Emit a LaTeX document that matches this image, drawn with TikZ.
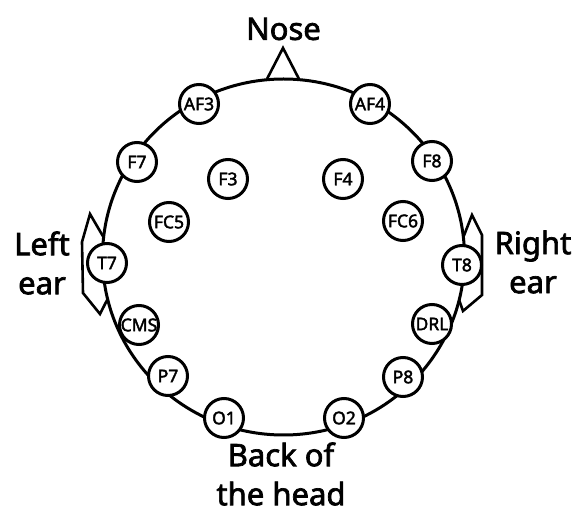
\documentclass[tikz,border=0pt]{standalone}
\usepackage{fontspec}
\setmainfont{Noto Sans}[AutoFakeBold=2.2]

\begin{document}
\begin{tikzpicture}[x=1pt,y=-1pt,
		electrode/.style={draw,circle,line width=3pt,fill=white,minimum size=39pt,inner sep=0pt,font=\fontsize{17.5}{17.5}\selectfont\bfseries},
		caption/.style={align=center,inner sep=1pt,font=\fontsize{31}{39}\selectfont\bfseries},
		outline/.style={line width=3pt},
		ear/.style={line width=2.6pt,line join=miter}]
		\useasboundingbox (0,0) rectangle (579,510);
		
		% Head with nose and ears
		\coordinate (Center) at (283.5,257);
		\draw[ear] (267,79) -- (283,48) -- (299,79);
		\draw[ear] (104,238) -- (90,214) -- (82,242) -- (83,293) -- (100,314) -- (107.6,299);
		\draw[ear] (463.4,237) -- (472,215) -- (482,235) -- (482,295) -- (463,311) -- (459.1,300);
		\draw[outline] (Center) ellipse [x radius=181pt, y radius=178pt];
		
		% Electrodes
		\node[electrode] (AF3) at (199,104) {AF3};
		\node[electrode] (AF4) at (370,104) {AF4};
		\node[electrode] (F7) at (137,162) {F7};
		\node[electrode] (F8) at (432,161) {F8};
		\node[electrode] (F3) at (228,179) {F3};
		\node[electrode] (F4) at (343,179) {F4};
		\node[electrode] (FC5) at (169,222) {FC5};
		\node[electrode] (FC6) at (403,221) {FC6};
		\node[electrode] (T7) at (107,263) {T7};
		\node[electrode] (T8) at (462,265) {T8};
		\node[electrode] (CMS) at (139,325) {CMS};
		\node[electrode] (DRL) at (432,324) {DRL};
		\node[electrode] (P7) at (168,376) {P7};
		\node[electrode] (P8) at (403,377) {P8};
		\node[electrode] (O1) at (224,418) {O1};
		\node[electrode] (O2) at (344,418) {O2};
		
		% Labels
		\node[caption] (Nose) at (283.5,29) {Nose};
		\node[caption] (LeftEar) at (42,263) {Left\\ear};
		\node[caption] (RightEar) at (533,262) {Right\\ear};
		\node[caption] (Back) at (281,474) {Back of\\the head};
		
		\end{tikzpicture}
\end{document}
